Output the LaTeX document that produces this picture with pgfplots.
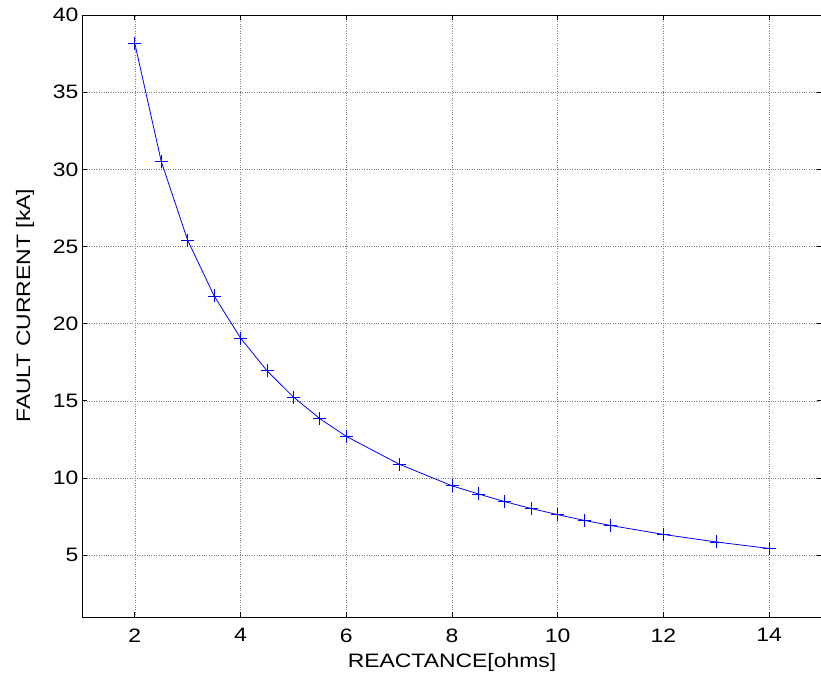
\documentclass[border=0pt]{standalone}
\usepackage{fontspec}
\setmainfont{Liberation Sans}[FakeStretch=1.18]
\usepackage{pgfplots}
\pgfplotsset{compat=1.18}
% plus mark with its colour set inside (objects lose outer colour with xdvipdfmx)
\pgfdeclareplotmark{bplus}{%
  \pgfsetstrokecolor{blue}%
  \pgfpathmoveto{\pgfqpoint{-\pgfplotmarksize}{0pt}}%
  \pgfpathlineto{\pgfqpoint{\pgfplotmarksize}{0pt}}%
  \pgfpathmoveto{\pgfqpoint{0pt}{-\pgfplotmarksize}}%
  \pgfpathlineto{\pgfqpoint{0pt}{\pgfplotmarksize}}%
  \pgfusepathqstroke}
\begin{document}
\begin{tikzpicture}
\begin{axis}[name=ax, at={(0,0)}, anchor=south west,
  scale only axis, width=740bp, height=602bp,
  xmin=1, xmax=15, ymin=1, ymax=40,
  xtick={2,4,...,14}, ytick={5,10,...,40},
  tick align=inside, major tick length=5bp,
  grid=major, grid style={dotted, gray, line width=0.6bp},
  axis line style={line width=0.8bp}, tick style={black, line width=0.8bp},
  font=\fontsize{19.5}{23}\selectfont,
  /pgf/number format/assume math mode=true,
  xticklabel style={yshift=-8bp},
  xlabel={REACTANCE[ohms]}, ylabel={FAULT CURRENT [kA]},
  xlabel style={at={(axis description cs:0.5,-0.075)}, anchor=center},
  ylabel style={at={(axis description cs:-0.077,0.517)}, anchor=center, rotate=0},
]
\addplot[color=blue, line width=0.8bp, mark=bplus, mark size=6.5bp, mark options={draw=blue, line width=0.8bp}] coordinates {
  (2, 38.15)
  (2.5, 30.5)
  (3, 25.4)
  (3.5, 21.8)
  (4, 19.07)
  (4.5, 16.95)
  (5, 15.25)
  (5.5, 13.85)
  (6, 12.7)
  (7, 10.9)
  (8, 9.5)
  (8.5, 8.97)
  (9, 8.47)
  (9.5, 8.03)
  (10, 7.63)
  (10.5, 7.26)
  (11, 6.93)
  (12, 6.35)
  (13, 5.86)
  (14, 5.44)
};
\end{axis}
\pgfresetboundingbox
\path[use as bounding box] ([xshift=-82bp,yshift=-68bp]ax.south west) rectangle ([xshift=-1bp,yshift=15bp]ax.north east);
\end{tikzpicture}
\end{document}
